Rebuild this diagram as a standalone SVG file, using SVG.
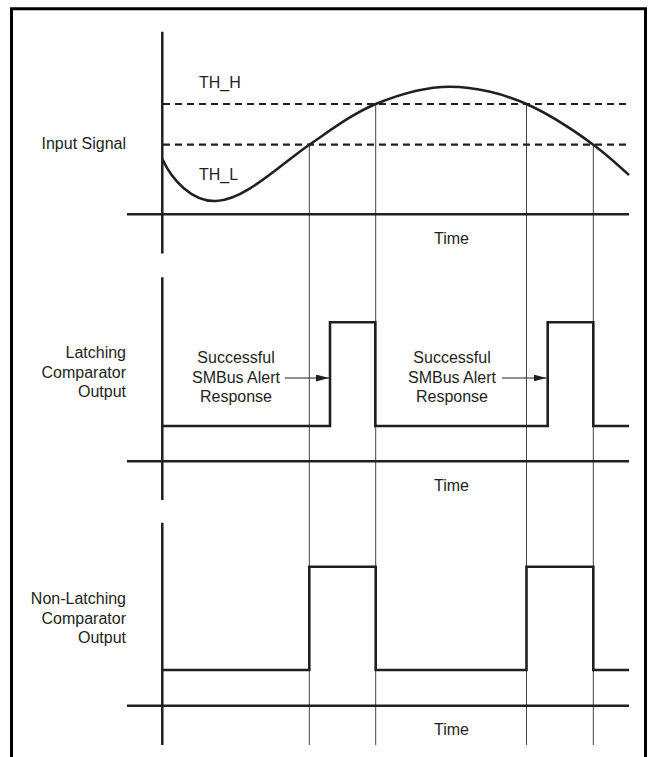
<svg xmlns="http://www.w3.org/2000/svg" width="649" height="757" viewBox="0 0 649 757">
<style>
.ax{stroke:#231f20;stroke-width:2.5;fill:none}
.sig{stroke:#231f20;stroke-width:2.6;fill:none;stroke-linejoin:miter}
.dash{stroke:#231f20;stroke-width:2.2;stroke-dasharray:7 5;fill:none}
.thin{stroke:#444;stroke-width:1;fill:none}
.arr{stroke:#231f20;stroke-width:1.2;fill:none}
text{font-family:"Liberation Sans",Arial,Helvetica,sans-serif;font-size:16px;fill:#231f20}
.r{text-anchor:end}
.m{text-anchor:middle}
</style>
<defs>
<marker id="ah" viewBox="0 0 13 7" refX="13" refY="3.5" markerWidth="13" markerHeight="7" markerUnits="userSpaceOnUse" orient="auto">
<path d="M0,0 L13,3.5 L0,7 Z" fill="#231f20"/>
</marker>
</defs>
<rect x="0" y="0" width="649" height="757" fill="#fff"/>
<path d="M11.5,760 V8.8 H645.5 V760" fill="none" stroke="#000" stroke-width="3"/>

<g id="guides">
<path class="thin" d="M309.3,144.7 V745 M375.7,104 V745 M526.5,104 V745 M593.3,144.7 V745"/>
</g>

<g id="input-signal">
<path class="ax" d="M162.3,31.7 V253.5 M127,214.3 H629"/>
<path class="dash" d="M163,104 H629 M163,144.7 H629"/>
<path class="sig" d="M162.3,159 C172,180 192,202 216,201 C245,200 280,165 309.3,144.7 C331,130 352,114 375.7,104 C400,94 425,86.7 450,86.7 C475,86.7 504,94 526.5,104 C549,114 572,129 593.3,144.7 C606,154 618,165 629,175"/>
<text x="199" y="88.3">TH_H</text>
<text x="199" y="180">TH_L</text>
<text class="r" x="126" y="149">Input Signal</text>
<text class="m" x="451.5" y="244">Time</text>
</g>

<g id="latching-output">
<path class="ax" d="M162.3,277.3 V500 M127,461.3 H629"/>
<path class="sig" d="M162.3,426 H330 V322.3 H375.3 V426 H547.7 V322.3 H593.3 V426 H629"/>
<text class="r" x="126" y="358.3">Latching</text>
<text class="r" x="126" y="377.8">Comparator</text>
<text class="r" x="126" y="397.3">Output</text>
<text class="m" x="236" y="363.3">Successful</text>
<text class="m" x="236" y="382.8">SMBus Alert</text>
<text class="m" x="236" y="402.3">Response</text>
<text class="m" x="452" y="363.3">Successful</text>
<text class="m" x="452" y="382.8">SMBus Alert</text>
<text class="m" x="452" y="402.3">Response</text>
<text class="m" x="451.5" y="491">Time</text>
</g>

<g id="non-latching-output">
<path class="ax" d="M162.3,522.7 V745 M127,705.7 H629"/>
<path class="sig" d="M162.3,670 H309.3 V566.7 H375.7 V670 H526.5 V566.7 H593.3 V670 H629"/>
<text class="r" x="126" y="604">Non-Latching</text>
<text class="r" x="126" y="623.5">Comparator</text>
<text class="r" x="126" y="643">Output</text>
<text class="m" x="451.5" y="735">Time</text>
</g>

<g id="connectors">
<path class="arr" d="M285,378 H329" marker-end="url(#ah)"/>
<path class="arr" d="M502,378 H546.5" marker-end="url(#ah)"/>
</g>
</svg>
